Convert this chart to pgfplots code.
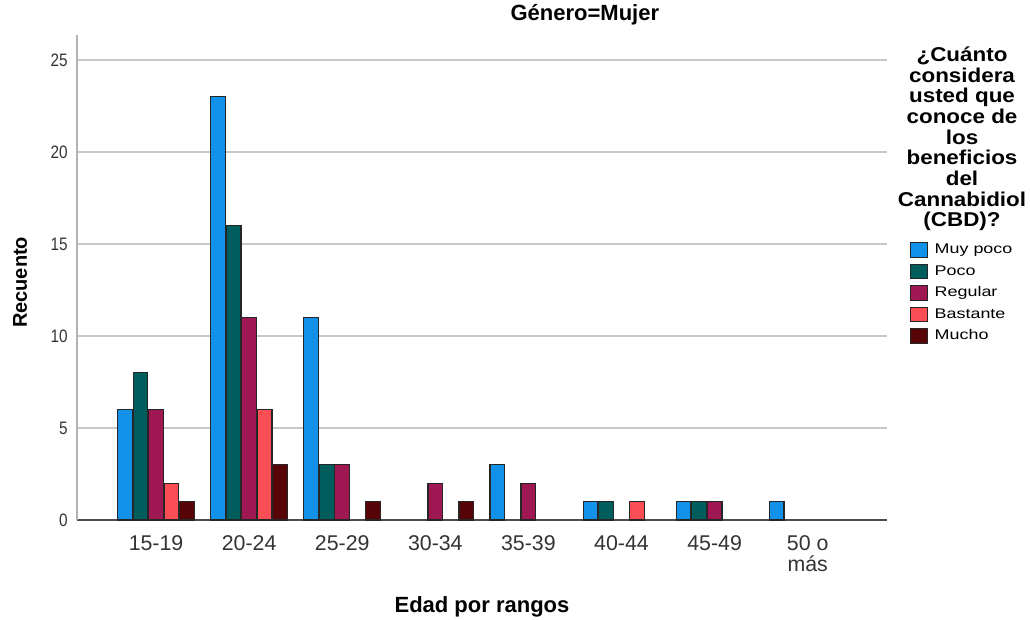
\documentclass[border=0pt]{standalone}
\usepackage{pgfplots}
\pgfplotsset{compat=1.18}
\usepackage{fontspec}
\setmainfont{Liberation Sans}
\newfontfamily\legfont[FakeStretch=1.28]{Liberation Sans}
\newfontfamily\ytfont[FakeStretch=0.85]{Liberation Sans}
\newfontfamily\lgtfont[FakeStretch=1.12]{Liberation Sans}
\definecolor{c1}{HTML}{1192E8}
\definecolor{c2}{HTML}{005D5D}
\definecolor{c3}{HTML}{9F1853}
\definecolor{c4}{HTML}{FA4D56}
\definecolor{c5}{HTML}{570408}
\begin{document}
\begin{tikzpicture}
\useasboundingbox (-57.75pt,-74.25pt) rectangle (714.75pt,390pt);
\begin{axis}[
  at={(0pt,0pt)}, anchor=south west,
  scale only axis, width=607.5pt, height=363.75pt,
  clip=false,
  xmin=-0.849, xmax=7.852, ymin=0, ymax=26.36,
  axis x line=bottom, axis y line=left,
  x axis line style={-, draw=black!70, line width=0.9pt},
  y axis line style={-, draw=black!30, line width=0.9pt},
  major tick length=0pt,
  ytick={0,5,10,15,20,25},
  ymajorgrids, grid style={draw=black!22, line width=0.9pt},
  xtick={0,1,2,3,4,5,6,7},
  xticklabels={15-19,20-24,25-29,30-34,35-39,40-44,45-49,{50 o\\más}},
  xticklabel style={font=\fontsize{16}{15.75}\selectfont, align=center, inner sep=0pt, anchor=north, yshift=-11.5pt, text=black!80},
  yticklabel style={font=\ytfont\fontsize{13.5}{13.5}\selectfont, inner sep=0pt, anchor=east, xshift=-6.75pt, text=black!80},
  /pgf/number format/assume math mode=true,
  xlabel={Edad por rangos},
  ylabel={Recuento},
  every axis x label/.style={at={([yshift=-69pt]axis description cs:0.5,0)}, anchor=base, font=\bfseries\fontsize{16.5}{16.5}\selectfont},
  every axis y label/.style={at={([xshift=-37.5pt]axis description cs:0,0.49)}, rotate=90, anchor=base, font=\bfseries\fontsize{15}{15}\selectfont},
  title={Género=Mujer},
  title style={at={(axis description cs:0.627,1.0144)}, anchor=base, font=\bfseries\fontsize{16.5}{16.5}\selectfont},
  ybar, bar width=0.158,
  every axis plot/.append style={draw=black!85, line width=0.85pt},
  legend style={at={(rel axis cs:1.028,0.573)}, anchor=north west, draw=none, fill=none,
    inner sep=0pt, outer sep=0pt, row sep=4.6pt,
    font=\legfont\fontsize{10.5}{10.5}\selectfont,
    nodes={inner sep=0pt, text height=8pt, text depth=2.5pt},
    /tikz/every odd column/.style={column sep=5pt}},
  legend cell align=left,
  legend image code/.code={\draw[#1, line width=0.75pt] (0pt,-5.4pt) rectangle (13pt,5.4pt);},
]
\addplot[fill=c1, bar shift=-0.333] coordinates {(0,6) (1,23) (2,11) (4,3) (5,1) (6,1) (7,1)};
\addplot[fill=c2, bar shift=-0.1665] coordinates {(0,8) (1,16) (2,3) (5,1) (6,1)};
\addplot[fill=c3, bar shift=0] coordinates {(0,6) (1,11) (2,3) (3,2) (4,2) (6,1)};
\addplot[fill=c4, bar shift=0.1665] coordinates {(0,2) (1,6) (5,1)};
\addplot[fill=c5, bar shift=0.333] coordinates {(0,1) (1,3) (2,1) (3,1)};
\legend{Muy poco,Poco,Regular,Bastante,Mucho}
\node[anchor=north, align=center, inner sep=0pt, font=\lgtfont\bfseries\fontsize{15}{15.5}\selectfont]
  at (axis description cs:1.0926,0.976)
  {¿Cuánto\\considera\\usted que\\conoce de\\los\\beneficios\\del\\Cannabidiol\\(CBD)?};
\end{axis}
\end{tikzpicture}
\end{document}
